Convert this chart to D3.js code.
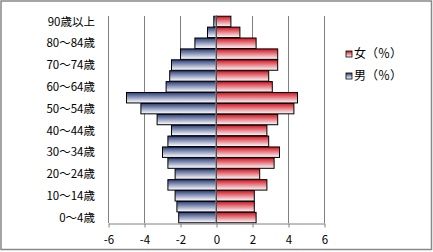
<!DOCTYPE html>
<html><head><meta charset="utf-8">
<script src="https://cdn.jsdelivr.net/npm/d3@7"></script>
<style>body{margin:0;background:#fff}svg{display:block}text{font-family:"Noto Sans CJK JP","Noto Sans",sans-serif;fill:#000}</style>
</head><body>
<script>
const categories = ["0～4歳","5～9歳","10～14歳","15～19歳","20～24歳","25～29歳","30～34歳","35～39歳","40～44歳","45～49歳","50～54歳","55～59歳","60～64歳","65～69歳","70～74歳","75～79歳","80～84歳","85～89歳","90歳以上"];
const male = [-2.1,-2.2,-2.3,-2.7,-2.3,-2.7,-3.0,-2.7,-2.5,-3.3,-4.2,-5.0,-2.8,-2.6,-2.5,-2.0,-1.2,-0.5,-0.15];
const female = [2.2,2.1,2.1,2.8,2.4,3.2,3.5,2.9,2.8,3.4,4.3,4.5,3.1,2.9,3.4,3.4,2.2,1.3,0.8];
const xTicks = [-6,-4,-2,0,2,4,6];
const seriesNames = ["女（％）","男（％）"];

const W=433,H=252;
const svg=d3.select("body").append("svg").attr("width",W).attr("height",H);
const defs=svg.append("defs");
function grad(id,dark,light){
  const g=defs.append("linearGradient").attr("id",id).attr("x1",0).attr("y1",0).attr("x2",0).attr("y2",1);
  g.append("stop").attr("offset","0%").attr("stop-color",dark);
  g.append("stop").attr("offset","90%").attr("stop-color",light);
  g.append("stop").attr("offset","100%").attr("stop-color",light);
}
grad("gb","#2a3d78","#eef0f7");
grad("gr","#d4101e","#f7e6e8");

svg.append("rect").attr("x",1).attr("y",1).attr("width",430.5).attr("height",248.5).attr("fill","#fff").attr("stroke","#888").attr("stroke-width",1.5);

const x=d3.scaleLinear().domain([-6,6]).range([108.5,324.5]);
const y=d3.scaleBand().domain(categories.slice().reverse()).range([16,223]).paddingInner(0.04).paddingOuter(0.02);

// gridlines
svg.append("g").selectAll("line").data(xTicks.filter(d=>d!==0)).join("line")
  .attr("x1",d=>x(d)).attr("x2",d=>x(d)).attr("y1",16).attr("y2",223)
  .attr("stroke","#808080").attr("stroke-width",1);

// bars
svg.append("g").selectAll("rect").data(categories.map((c,i)=>({c,v:male[i]}))).join("rect")
  .attr("x",d=>x(d.v)).attr("width",d=>x(0)-x(d.v)).attr("y",d=>y(d.c)).attr("height",y.bandwidth())
  .attr("fill","url(#gb)").attr("stroke","#000").attr("stroke-width",1);
svg.append("g").selectAll("rect").data(categories.map((c,i)=>({c,v:female[i]}))).join("rect")
  .attr("x",x(0)).attr("width",d=>x(d.v)-x(0)).attr("y",d=>y(d.c)).attr("height",y.bandwidth())
  .attr("fill","url(#gr)").attr("stroke","#000").attr("stroke-width",1);

// zero axis
svg.append("line").attr("x1",x(0)-0.5).attr("x2",x(0)-0.5).attr("y1",16).attr("y2",223).attr("stroke","#808080").attr("stroke-width",1.2);

// x axis
const ax=svg.append("g").attr("transform","translate(0,223.5)").call(d3.axisBottom(x).tickValues(xTicks).tickSize(4).tickSizeOuter(0).tickFormat(d=>String(d)));
ax.select(".domain").attr("stroke","#808080");
ax.selectAll(".tick line").attr("stroke","#808080");
ax.selectAll(".tick text").attr("font-size",11.5).attr("dy","0.72em").attr("y",12).style("font-family",'"Noto Sans CJK JP",sans-serif');

// category labels
svg.append("g").selectAll("text").data(categories.filter((c,i)=>i%2===0)).join("text")
  .attr("x",95).attr("y",d=>y(d)+y.bandwidth()/2).attr("dy","0.36em").attr("text-anchor","end")
  .attr("font-size",11.5).text(d=>d);

// legend
const lg=svg.append("g");
const leg=[{n:seriesNames[0],g:"url(#gr)",y:54},{n:seriesNames[1],g:"url(#gb)",y:76}];
leg.forEach(l=>{
  lg.append("rect").attr("x",346).attr("y",l.y-3).attr("width",6).attr("height",6).attr("fill",l.g).attr("stroke","#000").attr("stroke-width",0.8);
  lg.append("text").attr("x",354).attr("y",l.y).attr("dy","0.36em").attr("font-size",12).text(l.n);
});
</script>
</body></html>
